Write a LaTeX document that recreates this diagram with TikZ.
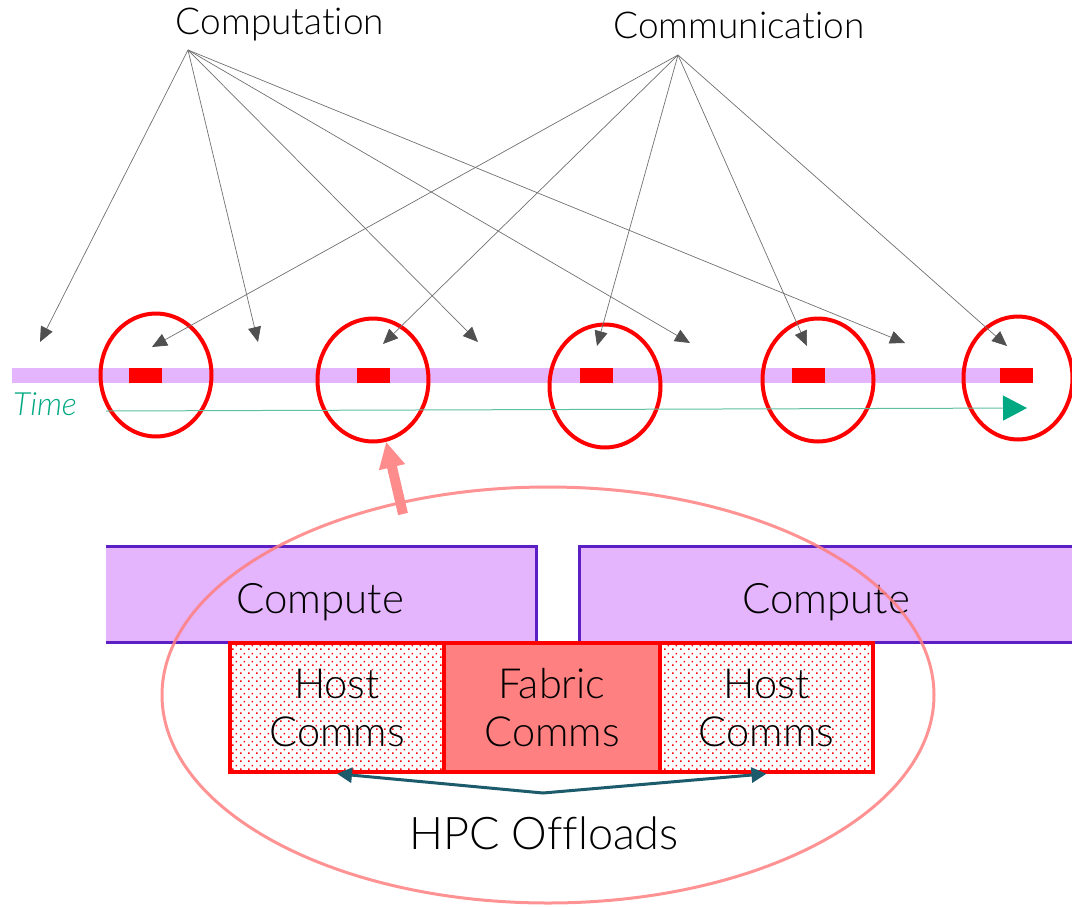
\documentclass[tikz,border=0pt]{standalone}
\usepackage{fontspec}
\setmainfont{Lato Light}[Ligatures=NoCommon]
\usetikzlibrary{arrows.meta,patterns,shapes.geometric}
\definecolor{barpurple}{HTML}{E4B4FC}
\definecolor{boxborder}{HTML}{5B1FC4}
\definecolor{salmon}{HTML}{FF8080}
\definecolor{pinkarrow}{HTML}{FF8C8C}
\definecolor{timegreen}{HTML}{01A982}
\definecolor{timeline}{HTML}{5FC0A0}
\definecolor{darkteal}{HTML}{1B5B6B}
\definecolor{arrgray}{HTML}{707070}
\definecolor{headgray}{HTML}{505050}
\pgfdeclarepatternformonly{hostdots}{\pgfpointorigin}{\pgfqpoint{8pt}{8pt}}{\pgfqpoint{8pt}{8pt}}{%
 \pgfpathrectangle{\pgfqpoint{0pt}{0pt}}{\pgfqpoint{1.8pt}{1.8pt}}%
 \pgfpathrectangle{\pgfqpoint{4pt}{4pt}}{\pgfqpoint{1.8pt}{1.8pt}}%
 \pgfusepath{fill}}
\begin{document}
\begin{tikzpicture}[x=1pt,y=-1pt,
  toplabel/.style={font=\fontsize{37}{42}\selectfont, inner sep=0pt},
  pointer/.style={draw=arrgray, line width=0.7pt, -{Triangle[length=15pt,width=13pt,color=headgray]}},
  marker/.style={fill=red, minimum width=33pt, minimum height=15pt, inner sep=0pt},
  ring/.style={ellipse, draw=red, line width=4pt, minimum width=111pt, minimum height=123pt, inner sep=0pt},
  timebar/.style={fill=barpurple, minimum height=15pt, inner sep=0pt},
  computebox/.style={fill=barpurple, minimum height=95pt, inner sep=0pt},
  computeedge/.style={draw=boxborder, line width=3pt},
  bigtext/.style={font=\fontsize{42}{48}\selectfont, inner sep=0pt},
  hostbox/.style={draw=red, line width=3.5pt, pattern=hostdots, pattern color=red, minimum height=129pt, inner sep=0pt, align=center, font=\fontsize{41.5}{48}\selectfont},
  fabricbox/.style={draw=red, fill=salmon, line width=3.5pt, minimum height=129pt, inner sep=0pt, align=center, font=\fontsize{41.5}{48}\selectfont},
  offloadring/.style={ellipse, draw=salmon, draw opacity=0.85, line width=3pt, minimum width=772pt, minimum height=416pt, inner sep=0pt},
  zoomarrow/.style={draw=pinkarrow, line width=10pt, -{Triangle[length=26pt,width=25pt]}},
  offloadarrow/.style={draw=darkteal, line width=3pt, {Triangle[length=15pt,width=15pt]}-{Triangle[length=15pt,width=15pt]}},
  timearrow/.style={draw=timeline, line width=1pt, -{Triangle[length=24pt,width=25pt,color=timegreen]}}
]
\useasboundingbox (0,0) rectangle (1072,906);

% time bar
\node[timebar, minimum width=988pt] (bar) at (506,375.5) {};
\node[marker] (m1) at (145.5,375.5) {};
\node[marker] (m2) at (373.5,375.5) {};
\node[marker] (m3) at (596.5,375.5) {};
\node[marker] (m4) at (808.5,375.5) {};
\node[marker] (m5) at (1016.5,375.5) {};

\node[ring] (r1) at (156,375) {};
\node[ring] (r2) at (373,380) {};
\node[ring] (r3) at (605,386) {};
\node[ring] (r4) at (818,380) {};
\node[ring, minimum width=109pt] (r5) at (1018,378) {};

% time axis
\coordinate (ts) at (106,411);
\coordinate (te) at (1027,408);
\draw[timearrow] (ts) -- (te);
\node[anchor=base west, text=timegreen, font=\fontsize{32}{36}\selectfont\itshape, inner sep=0pt] (time) at (13,415) {Time};

% top labels and pointers
\node[toplabel, anchor=base] (computation) at (280,34) {Computation};
\node[toplabel, anchor=base] (communication) at (739,38) {Communication};
\coordinate (csrc) at (188,50);
\coordinate (msrc) at (678,55);
\coordinate (ca1) at (40,342);
\coordinate (ca2) at (258,342);
\coordinate (ca3) at (478,342);
\coordinate (ca4) at (690,343);
\coordinate (ca5) at (905,343);
\coordinate (cb1) at (152,347);
\coordinate (cb2) at (383,344);
\coordinate (cb3) at (597,346);
\coordinate (cb4) at (807,346);
\coordinate (cb5) at (1007,346);
\foreach \i in {1,...,5}{
  \draw[pointer] (csrc) -- (ca\i);
  \draw[pointer] (msrc) -- (cb\i);
}

% compute boxes
\node[computebox, minimum width=430pt] (cl) at (321,594.5) {};
\node[computebox, minimum width=492pt] (cr) at (826,594.5) {};
\draw[computeedge] (cl.north west) -- (cl.north east) -- (cl.south east) -- (cl.south west);
\draw[computeedge] (cr.north east) -- (cr.north west) -- (cr.south west) -- (cr.south east);
\node[bigtext, anchor=base] (cltext) at (320,613) {Compute};
\node[bigtext, anchor=base] (crtext) at (826,613) {Compute};

% comms boxes
\node[hostbox, minimum width=214pt] (h1) at (337,707.5) {Host\\Comms};
\node[fabricbox, minimum width=216pt] (fab) at (552,707.5) {Fabric\\Comms};
\node[hostbox, minimum width=213pt] (h2) at (766.5,707.5) {Host\\Comms};

% offload ellipse and arrows
\node[offloadring] (offl) at (548,695) {};
\coordinate (pstart) at (403,514);
\draw[zoomarrow] (pstart) -- (r2.-78);
\coordinate (joint) at (543,793);
\draw[offloadarrow] (h1.south) -- (joint) -- (h2.south);
\node[font=\fontsize{45}{50}\selectfont, inner sep=0pt, anchor=base] (hpc) at (544,849) {HPC Offloads};
\end{tikzpicture}
\end{document}
